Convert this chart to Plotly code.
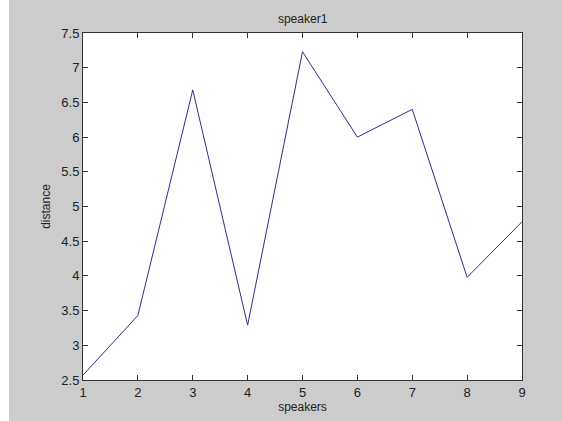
import plotly.graph_objects as go

speakers = [1, 2, 3, 4, 5, 6, 7, 8, 9]
distance = [2.57, 3.43, 6.68, 3.29, 7.23, 6.0, 6.4, 3.98, 4.78]
x_ticks = [1, 2, 3, 4, 5, 6, 7, 8, 9]
y_ticks = [2.5, 3, 3.5, 4, 4.5, 5, 5.5, 6, 6.5, 7, 7.5]
y_tick_text = ["2.5", "3", "3.5", "4", "4.5", "5", "5.5", "6", "6.5", "7", "7.5"]

fig = go.Figure()
fig.add_trace(go.Scatter(x=speakers, y=distance, mode="lines",
                         line=dict(color="#2e2e8c", width=1), showlegend=False))

font = dict(family="Liberation Sans, Arial, sans-serif", size=12, color="#222222")
fig.update_layout(
    width=562, height=421,
    margin=dict(l=83, r=40, t=33, b=41),
    paper_bgcolor="#cccccc", plot_bgcolor="#ffffff",
    font=font,
    title=dict(text="speaker1", x=0.5385, xanchor="center", y=0.955, yanchor="middle",
               font=dict(size=12, color="#222222")),
    xaxis=dict(range=[1, 9], tickvals=x_ticks, ticks="inside", ticklen=5, tickcolor="#333333",
               showline=True, linecolor="#333333", linewidth=1, mirror="ticks",
               showgrid=False, zeroline=False, tickfont=dict(size=13, color="#222222"),
               title=dict(text="speakers", standoff=2, font=dict(size=12))),
    yaxis=dict(range=[2.5, 7.5], tickvals=y_ticks, ticktext=y_tick_text, ticks="inside",
               ticklen=5, tickcolor="#333333", showline=True, linecolor="#333333", linewidth=1,
               mirror="ticks", showgrid=False, zeroline=False,
               tickfont=dict(size=13, color="#222222"),
               title=dict(text="distance", standoff=8, font=dict(size=12))),
    shapes=[dict(type="rect", xref="paper", yref="paper", x0=-83/439, x1=-74/439,
                 y0=-41/347, y1=1 + 41/347, fillcolor="#ffffff", line=dict(width=0), layer="below")],
)

fig.write_html("out.html")
